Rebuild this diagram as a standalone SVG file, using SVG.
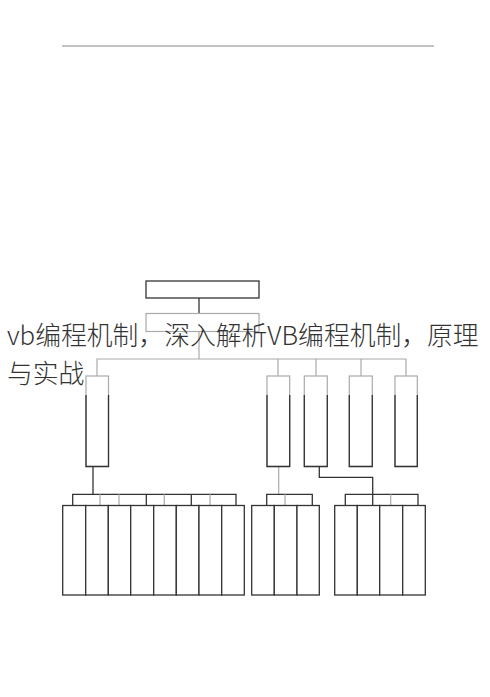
<svg xmlns="http://www.w3.org/2000/svg" width="490" height="697" viewBox="0 0 490 697">
<style>
.box{fill:#fff;stroke:#333;stroke-width:1.3}
.lbox{fill:none;stroke:#aaa;stroke-width:1.2}
.dk{stroke:#333;stroke-width:1.3;fill:none}
.lt{stroke:#aaa;stroke-width:1.2;fill:none}
.title{font-family:"Noto Sans CJK SC","Noto Sans",sans-serif;font-size:25.8px;font-weight:300;fill:#333}
</style>
<rect width="490" height="697" fill="#fff"/>
<line x1="62" y1="46" x2="434" y2="46" stroke="#888" stroke-width="1.2"/>
<g id="connectors">
  <line class="dk" x1="199" y1="298" x2="199" y2="313.5"/>
  <line class="lt" x1="199" y1="331.5" x2="199" y2="359"/>
  <polyline class="lt" points="97,376 97,359 406,359 406,376"/>
  <line class="lt" x1="278" y1="359" x2="278" y2="376"/>
  <line class="lt" x1="316" y1="359" x2="316" y2="376"/>
  <line class="lt" x1="361" y1="359" x2="361" y2="376"/>
  <line class="dk" x1="93" y1="466.5" x2="93" y2="494.3"/>
  <polyline class="dk" points="72.7,505.5 72.7,494.3 236,494.3 236,505.5"/>
  <line class="dk" x1="146.3" y1="494.3" x2="146.3" y2="505.5"/>
  <line class="dk" x1="191.3" y1="494.3" x2="191.3" y2="505.5"/>
  <line class="lt" x1="100" y1="494.3" x2="100" y2="505.5"/>
  <line class="lt" x1="119" y1="494.3" x2="119" y2="505.5"/>
  <line class="lt" x1="164.3" y1="494.3" x2="164.3" y2="505.5"/>
  <line class="lt" x1="210" y1="494.3" x2="210" y2="505.5"/>
  <line class="lt" x1="278.7" y1="466.5" x2="278.7" y2="494.3"/>
  <polyline class="dk" points="266.7,505.5 266.7,494.3 312.3,494.3 312.3,505.5"/>
  <line class="lt" x1="285" y1="494.3" x2="285" y2="505.5"/>
  <polyline class="dk" points="319.3,466.5 319.3,477.3 372.7,477.3 372.7,505.5"/>
  <polyline class="dk" points="345.3,505.5 345.3,494.3 418,494.3 418,505.5"/>
  <line class="lt" x1="390.7" y1="494.3" x2="390.7" y2="505.5"/>
</g>
<g id="root"><rect class="box" x="146" y="281" width="113" height="17"/></g>
<g id="sub"><rect class="lbox" x="146" y="313.5" width="113" height="18"/></g>
<g id="col1"><rect class="lbox" x="86" y="376" width="22.5" height="90.5"/><polyline class="dk" points="86,395 86,466.5 108.5,466.5 108.5,395"/></g>
<g id="col2"><rect class="lbox" x="267" y="376" width="22.7" height="90.5"/><polyline class="dk" points="267,395 267,466.5 289.7,466.5 289.7,395"/></g>
<g id="col3"><rect class="lbox" x="304.3" y="376" width="23" height="90.5"/><polyline class="dk" points="304.3,395 304.3,466.5 327.3,466.5 327.3,395"/></g>
<g id="col4"><rect class="lbox" x="349.3" y="376" width="23" height="90.5"/><polyline class="dk" points="349.3,395 349.3,466.5 372.3,466.5 372.3,395"/></g>
<g id="col5"><rect class="lbox" x="395" y="376" width="22.3" height="90.5"/><polyline class="dk" points="395,395 395,466.5 417.3,466.5 417.3,395"/></g>
<g id="group1">
  <rect class="box" x="62.7" y="505.5" width="23" height="89.5"/>
  <rect class="box" x="85.7" y="505.5" width="22.6" height="89.5"/>
  <rect class="box" x="108.3" y="505.5" width="22.4" height="89.5"/>
  <rect class="box" x="130.7" y="505.5" width="23" height="89.5"/>
  <rect class="box" x="153.7" y="505.5" width="22.6" height="89.5"/>
  <rect class="box" x="176.3" y="505.5" width="22.7" height="89.5"/>
  <rect class="box" x="199" y="505.5" width="22.7" height="89.5"/>
  <rect class="box" x="221.7" y="505.5" width="22.6" height="89.5"/>
</g>
<g id="group2">
  <rect class="box" x="251.7" y="505.5" width="22.6" height="89.5"/>
  <rect class="box" x="274.3" y="505.5" width="22.7" height="89.5"/>
  <rect class="box" x="297" y="505.5" width="22.3" height="89.5"/>
</g>
<g id="group3">
  <rect class="box" x="334.7" y="505.5" width="22.6" height="89.5"/>
  <rect class="box" x="357.3" y="505.5" width="22.4" height="89.5"/>
  <rect class="box" x="379.7" y="505.5" width="23" height="89.5"/>
  <rect class="box" x="402.7" y="505.5" width="22.6" height="89.5"/>
</g>
<g id="title">
  <text class="title" x="7" y="344.5">vb编程机制，深入解析VB编程机制，原理</text>
  <text class="title" x="7" y="382.5">与实战</text>
</g>
</svg>
